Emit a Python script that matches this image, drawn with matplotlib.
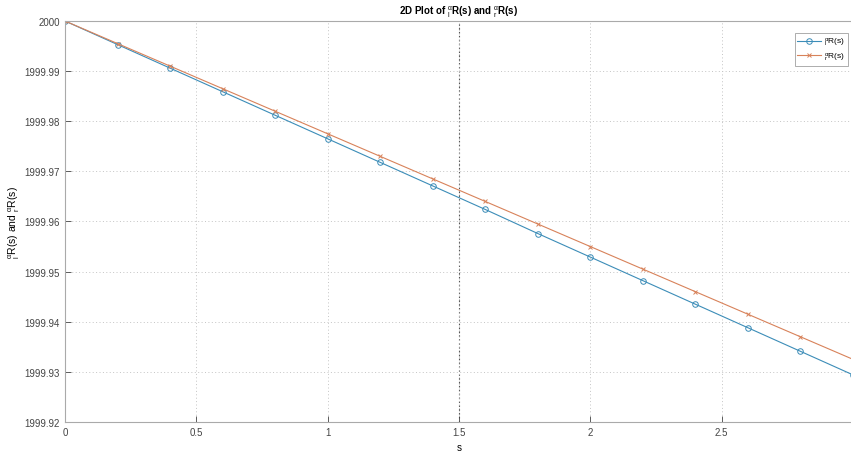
import matplotlib
matplotlib.use("Agg")
import matplotlib.pyplot as plt
from matplotlib.ticker import FuncFormatter

plt.rcParams['font.family'] = ['Liberation Sans', 'DejaVu Sans']
plt.rcParams['mathtext.fontset'] = 'custom'
plt.rcParams['mathtext.rm'] = 'Liberation Sans'
plt.rcParams['mathtext.it'] = 'Liberation Sans'

s = [0.0, 0.2, 0.4, 0.6, 0.8, 1.0, 1.2, 1.4, 1.6, 1.8, 2.0, 2.2, 2.4, 2.6, 2.8, 3.0]
left_R = [2000.0, 1999.9953, 1999.9906, 1999.9859, 1999.9812, 1999.9765, 1999.9718,
          1999.9671, 1999.9624, 1999.9576, 1999.9529, 1999.9482, 1999.9435,
          1999.9388, 1999.9341, 1999.9294]
right_R = [2000.0, 1999.9955, 1999.9910, 1999.9865, 1999.9820, 1999.9775, 1999.9730,
           1999.9685, 1999.9640, 1999.9595, 1999.9550, 1999.9505, 1999.9460,
           1999.9415, 1999.9370, 1999.9325]
xticks = [0, 0.5, 1, 1.5, 2, 2.5]
yticks = [1999.92, 1999.93, 1999.94, 1999.95, 1999.96, 1999.97, 1999.98, 1999.99, 2000.0]

lab_l = r'${}_{l}^{\alpha}$R(s)'
lab_r = r'${}_{r}^{\alpha}$R(s)'

fig = plt.figure(figsize=(8.51, 4.52), dpi=100)
ax = fig.add_axes([65/851, 1-423/452, (853-65)/851, (423-22)/452])

blue = '#3C8DB8'
orange = '#D8825A'
ax.plot(s, left_R, color=blue, lw=0.8, marker='o', ms=4, mfc='none', mew=0.7, label=lab_l)
ax.plot(s, right_R, color=orange, lw=0.8, marker='x', ms=3, mew=0.7, label=lab_r)

ax.set_xlim(0, 3)
ax.set_ylim(1999.92, 2000.0)
ax.set_xticks(xticks)
ax.set_yticks(yticks)
ax.xaxis.set_major_formatter(FuncFormatter(lambda v, p: ('%g' % v)))
ax.yaxis.set_major_formatter(FuncFormatter(lambda v, p: ('%.2f' % v).rstrip('0').rstrip('.')))
ax.tick_params(direction='in', labelsize=7, colors='#444444', length=4, width=0.6)
for sp in ax.spines.values():
    sp.set_color('#aaaaaa')
    sp.set_linewidth(0.8)

ax.grid(True, linestyle=(0, (1, 2.5)), color='#c4c4c4', linewidth=0.7)
ax.axvline(1.5, linestyle=(0, (1.5, 2)), color='#555555', linewidth=0.8, zorder=0.5)

ax.set_title('2D Plot of ' + lab_l + ' and ' + lab_r, fontsize=7, fontweight='bold', pad=5)
ax.set_xlabel('s', fontsize=7, labelpad=4)
ax.set_ylabel(lab_l + ' and ' + lab_r, fontsize=7.5)
ax.yaxis.set_label_coords(-0.054, 0.5)

leg = ax.legend(loc='upper right', fontsize=6, frameon=True, fancybox=False,
                edgecolor='#888888', handlelength=2.8, borderpad=0.35,
                labelspacing=0.3, handletextpad=0.4,
                bbox_to_anchor=(0.999, 0.98))
leg.get_frame().set_linewidth(0.6)

fig.savefig('out.png', dpi=100)
